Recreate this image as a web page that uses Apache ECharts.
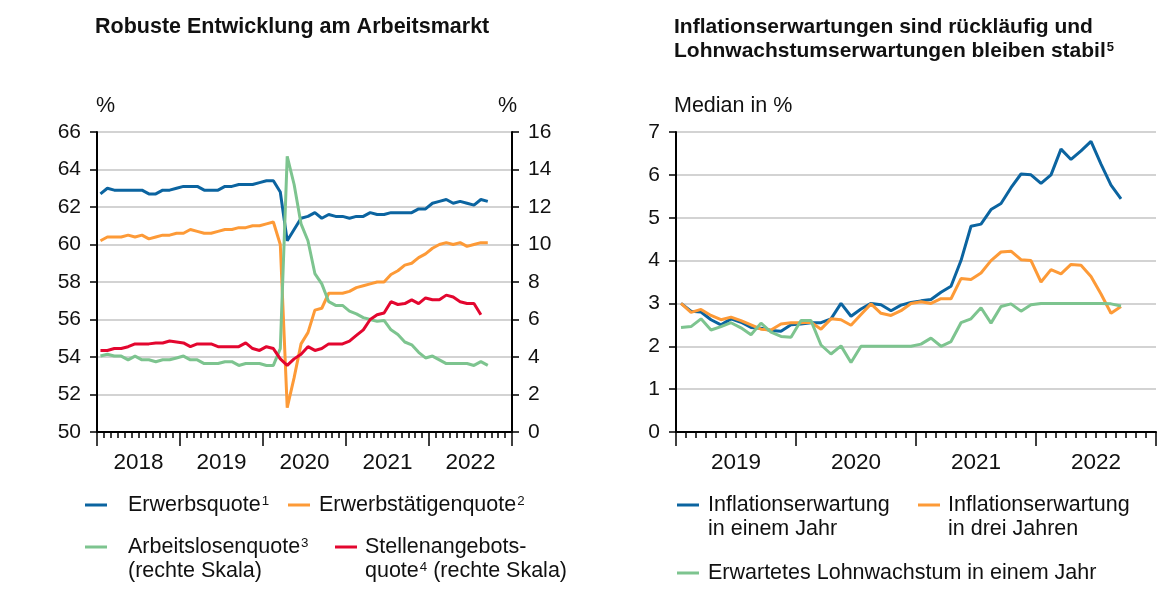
<!DOCTYPE html>
<html>
<head>
<meta charset="utf-8">
<style>
  html, body { margin: 0; padding: 0; background: #fff; }
  #chart { width: 1175px; height: 589px; }
</style>
</head>
<body>
<div id="chart"></div>
<script src="https://cdn.jsdelivr.net/npm/echarts@6/dist/echarts.min.js"></script>
<script>
// left panel: monthly, Jan 2018 - Sep 2022
var yearsLeft = ['2018', '2019', '2020', '2021', '2022'];
var erwerbsquote = [
  62.7, 63.0, 62.9, 62.9, 62.9, 62.9, 62.9, 62.7, 62.7, 62.9, 62.9, 63.0,
  63.1, 63.1, 63.1, 62.9, 62.9, 62.9, 63.1, 63.1, 63.2, 63.2, 63.2, 63.3,
  63.4, 63.4, 62.8, 60.2, 60.8, 61.4, 61.5, 61.7, 61.4, 61.6, 61.5, 61.5,
  61.4, 61.5, 61.5, 61.7, 61.6, 61.6, 61.7, 61.7, 61.7, 61.7, 61.9, 61.9,
  62.2, 62.3, 62.4, 62.2, 62.3, 62.2, 62.1, 62.4, 62.3
];
var erwerbstaetigenquote = [
  60.2, 60.4, 60.4, 60.4, 60.5, 60.4, 60.5, 60.3, 60.4, 60.5, 60.5, 60.6,
  60.6, 60.8, 60.7, 60.6, 60.6, 60.7, 60.8, 60.8, 60.9, 60.9, 61.0, 61.0,
  61.1, 61.2, 60.0, 51.3, 52.9, 54.7, 55.3, 56.5, 56.6, 57.4, 57.4, 57.4,
  57.5, 57.7, 57.8, 57.9, 58.0, 58.0, 58.4, 58.6, 58.9, 59.0, 59.3, 59.5,
  59.8, 60.0, 60.1, 60.0, 60.1, 59.9, 60.0, 60.1, 60.1
];
var arbeitslosenquote = [
  4.05, 4.15, 4.05, 4.05, 3.85, 4.05, 3.85, 3.85, 3.75, 3.85, 3.85, 3.95,
  4.05, 3.85, 3.85, 3.65, 3.65, 3.65, 3.75, 3.75, 3.55, 3.65, 3.65, 3.65,
  3.55, 3.55, 4.45, 14.7, 13.2, 11.1, 10.2, 8.45, 7.9, 6.95, 6.75, 6.75,
  6.45, 6.3, 6.1, 6.0, 5.9, 5.95, 5.45, 5.2, 4.8, 4.65, 4.25, 3.95,
  4.05, 3.85, 3.65, 3.65, 3.65, 3.65, 3.55, 3.75, 3.55
];
var stellenangebotsquote = [
  4.35, 4.35, 4.45, 4.45, 4.55, 4.7, 4.7, 4.7, 4.75, 4.75, 4.85, 4.8,
  4.75, 4.55, 4.7, 4.7, 4.7, 4.55, 4.55, 4.55, 4.55, 4.75, 4.45, 4.35,
  4.55, 4.45, 3.9, 3.55, 3.9, 4.15, 4.55, 4.35, 4.45, 4.7, 4.7, 4.7,
  4.85, 5.15, 5.45, 6.0, 6.25, 6.35, 6.95, 6.8, 6.85, 7.05, 6.85, 7.15,
  7.05, 7.05, 7.3, 7.2, 6.95, 6.85, 6.85, 6.25
];

// right panel: monthly, Jan 2019 - Sep 2022
var yearsRight = ['2019', '2020', '2021', '2022'];
var inflEinJahr = [
  3.0, 2.82, 2.8, 2.62, 2.5, 2.64, 2.56, 2.44, 2.42, 2.37, 2.35, 2.5,
  2.52, 2.55, 2.55, 2.64, 3.0, 2.7, 2.87, 3.0, 2.97, 2.83, 2.96, 3.02,
  3.06, 3.09, 3.26, 3.4, 4.0, 4.8, 4.85, 5.19, 5.33, 5.7, 6.02, 6.0,
  5.8, 6.0, 6.6, 6.36, 6.56, 6.78, 6.25, 5.76, 5.44
];
var inflDreiJahre = [
  3.0, 2.79, 2.86, 2.72, 2.62, 2.68, 2.6, 2.5, 2.4, 2.38, 2.52, 2.55,
  2.55, 2.56, 2.4, 2.64, 2.62, 2.49, 2.74, 2.99, 2.77, 2.72, 2.83, 3.0,
  3.04, 3.0, 3.11, 3.11, 3.58, 3.56, 3.71, 4.0, 4.2, 4.22, 4.02, 4.0,
  3.5, 3.79, 3.69, 3.91, 3.89, 3.63, 3.22, 2.77, 2.93
];
var lohnwachstum = [
  2.44, 2.46, 2.64, 2.38, 2.46, 2.55, 2.43, 2.27, 2.54, 2.33, 2.23, 2.21,
  2.6, 2.6, 2.03, 1.82, 2.01, 1.62, 2.0, 2.0, 2.0, 2.0, 2.0, 2.0,
  2.05, 2.19, 2.0, 2.11, 2.55, 2.64, 2.9, 2.54, 2.93, 2.99, 2.82, 2.97,
  3.0, 3.0, 3.0, 3.0, 3.0, 3.0, 3.0, 2.99, 2.94
];

var BLUE = '#0b64a0', ORANGE = '#fd9a37', GREEN = '#7dc48f', RED = '#e3062f';
var FONT = '"Liberation Sans", Arial, sans-serif';
var INK = '#111';

function monthsOf(years) {
  var out = [];
  years.forEach(function (y) {
    for (var m = 1; m <= 12; m++) out.push(y + '-' + m);
  });
  return out;
}

function monthAxis(grid, years) {
  return {
    type: 'category', gridIndex: grid, position: 'bottom', data: monthsOf(years),
    boundaryGap: true,
    axisLine: { show: true, lineStyle: { color: '#000', width: 2 } },
    axisTick: { show: true, interval: 0, length: 6, lineStyle: { color: '#000', width: 1.5 } },
    axisLabel: { show: false },
    splitLine: { show: false }
  };
}

function yearAxis(grid, years) {
  return {
    type: 'category', gridIndex: grid, position: 'bottom', data: years,
    boundaryGap: true,
    axisLine: { show: false },
    axisTick: { show: true, interval: 0, length: 14, lineStyle: { color: '#000', width: 1.5 } },
    axisLabel: { interval: 0, fontSize: 22.5, margin: 19, color: INK, fontFamily: FONT },
    splitLine: { show: false }
  };
}

function valueAxis(grid, pos, min, max, step, grid_lines) {
  return {
    type: 'value', gridIndex: grid, position: pos, min: min, max: max, interval: step,
    axisLine: { show: true, lineStyle: { color: '#000', width: 2 } },
    axisTick: { show: true, length: 7, lineStyle: { color: '#000', width: 1.5 } },
    axisLabel: { fontSize: 21, margin: 16, color: INK, fontFamily: FONT },
    splitLine: { show: grid_lines, lineStyle: { color: '#c4c4c4', width: 1.5 } }
  };
}

function line(name, data, color, xi, yi) {
  return {
    name: name, type: 'line', data: data, xAxisIndex: xi, yAxisIndex: yi,
    showSymbol: false, symbol: 'none', lineStyle: { color: color, width: 3 },
    itemStyle: { color: color }
  };
}

// text block; {s|n} marks a superscript
function txt(x, y, s, bold, size) {
  size = size || 21.5;
  return {
    type: 'text', x: x, y: y,
    style: {
      text: s, fill: INK, lineHeight: 24, verticalAlign: 'top',
      fontSize: size, fontFamily: FONT, fontWeight: bold ? 'bold' : 'normal',
      rich: {
        s: { fontSize: size * 0.62, fontFamily: FONT, fontWeight: bold ? 'bold' : 'normal',
             fill: INK, verticalAlign: 'top', lineHeight: 24, padding: [2, 0, 0, 1] }
      }
    }
  };
}

function key(x, y, color) {
  return { type: 'rect', shape: { x: x, y: y - 1.5, width: 22, height: 3 }, style: { fill: color } };
}

var chart = echarts.init(document.getElementById('chart'));
chart.setOption({
  animation: false,
  backgroundColor: '#fff',
  grid: [
    { left: 97, right: 663, top: 132, bottom: 157 },
    { left: 676, right: 19, top: 132, bottom: 157 }
  ],
  xAxis: [
    monthAxis(0, yearsLeft), yearAxis(0, yearsLeft),
    monthAxis(1, yearsRight), yearAxis(1, yearsRight)
  ],
  yAxis: [
    valueAxis(0, 'left', 50, 66, 2, true),
    valueAxis(0, 'right', 0, 16, 2, false),
    valueAxis(1, 'left', 0, 7, 1, true)
  ],
  series: [
    line('Erwerbsquote', erwerbsquote, BLUE, 0, 0),
    line('Erwerbstätigenquote', erwerbstaetigenquote, ORANGE, 0, 0),
    line('Arbeitslosenquote', arbeitslosenquote, GREEN, 0, 1),
    line('Stellenangebotsquote', stellenangebotsquote, RED, 0, 1),
    line('Inflationserwartung in einem Jahr', inflEinJahr, BLUE, 2, 2),
    line('Inflationserwartung in drei Jahren', inflDreiJahre, ORANGE, 2, 2),
    line('Erwartetes Lohnwachstum in einem Jahr', lohnwachstum, GREEN, 2, 2)
  ],
  graphic: [
    // titles and units
    txt(95, 15, 'Robuste Entwicklung am Arbeitsmarkt', true, 21.5),
    txt(674, 15, 'Inflationserwartungen sind rückläufig und\nLohnwachstumserwartungen bleiben stabil{s|5}', true, 21),
    txt(96, 94, '%'),
    txt(498, 94, '%'),
    txt(674, 94, 'Median in %'),
    // left legend
    key(85, 505, BLUE), txt(128, 493, 'Erwerbsquote{s|1}'),
    key(288, 505, ORANGE), txt(319, 493, 'Erwerbstätigenquote{s|2}'),
    key(85, 547, GREEN), txt(128, 535, 'Arbeitslosenquote{s|3}\n(rechte Skala)'),
    key(335, 547, RED), txt(365, 535, 'Stellenangebots-\nquote{s|4} (rechte Skala)'),
    // right legend
    key(677, 505, BLUE), txt(708, 493, 'Inflationserwartung\nin einem Jahr'),
    key(918, 505, ORANGE), txt(948, 493, 'Inflationserwartung\nin drei Jahren'),
    key(677, 573, GREEN), txt(708, 561, 'Erwartetes Lohnwachstum in einem Jahr')
  ]
});
</script>
</body>
</html>
